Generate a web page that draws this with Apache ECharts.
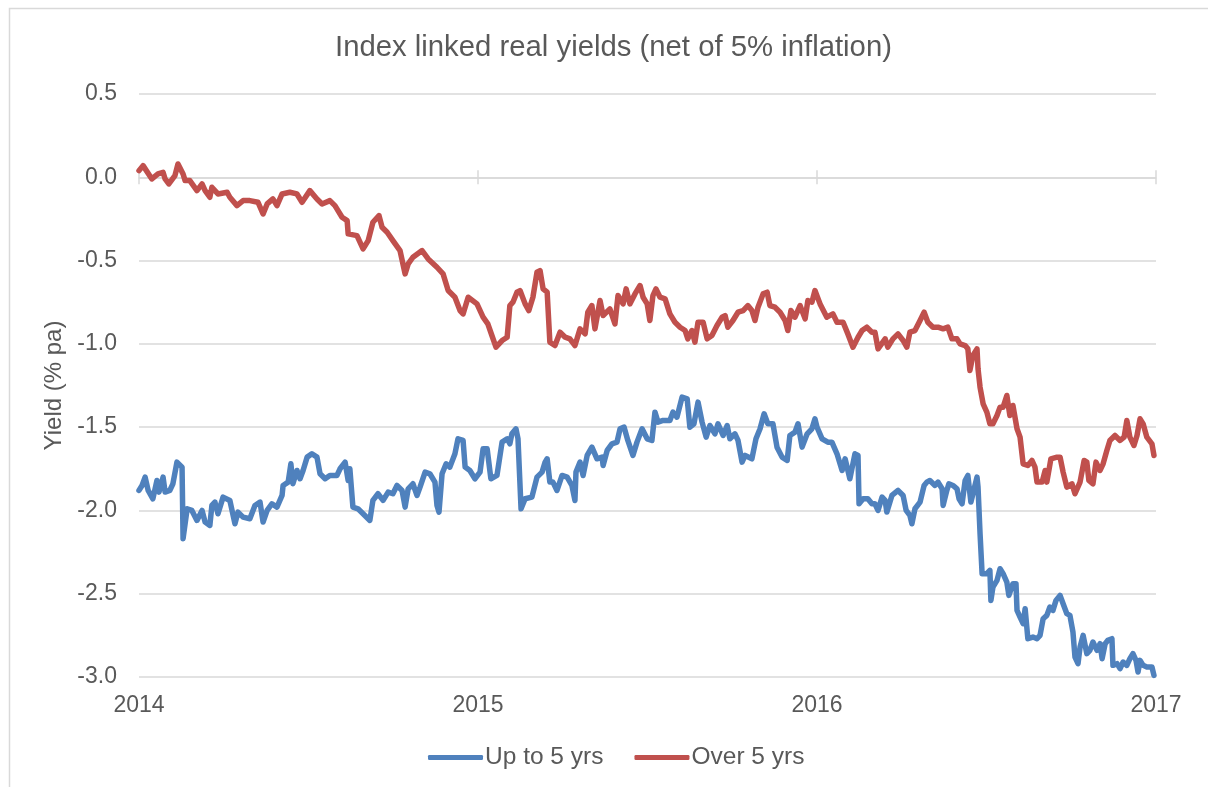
<!DOCTYPE html>
<html>
<head>
<meta charset="utf-8">
<script src="https://cdn.jsdelivr.net/npm/echarts@6/dist/echarts.min.js"></script>
<style>
html,body{margin:0;padding:0;background:#fff;}
#chart{width:1208px;height:787px;}
</style>
</head>
<body>
<div id="chart"></div>
<script>
const TITLE = 'Index linked real yields (net of 5% inflation)';
const Y_NAME = 'Yield (% pa)';
const SERIES_NAMES = ['Up to 5 yrs', 'Over 5 yrs'];
const START_YEAR = 2014;
const END_YEAR = 2017;

// Over 5 yrs: time (years since START_YEAR) and yield values
const overT = [0,0.012,0.038,0.056,0.071,0.077,0.088,0.106,0.115,0.130,0.136,0.150,0.171,0.186,0.195,0.209,0.215,0.233,0.260,0.268,0.289,0.307,0.327,0.351,0.366,0.378,0.395,0.407,0.422,0.445,0.466,0.481,0.504,0.525,0.540,0.563,0.578,0.599,0.614,0.617,0.643,0.661,0.676,0.690,0.708,0.717,0.732,0.749,0.770,0.785,0.794,0.808,0.835,0.853,0.879,0.897,0.912,0.932,0.947,0.956,0.971,0.997,1.015,1.029,1.041,1.053,1.071,1.086,1.094,1.103,1.115,1.124,1.139,1.150,1.162,1.174,1.183,1.192,1.204,1.212,1.227,1.242,1.257,1.271,1.286,1.301,1.316,1.324,1.336,1.345,1.360,1.369,1.389,1.404,1.413,1.428,1.437,1.448,1.463,1.478,1.487,1.499,1.507,1.516,1.525,1.537,1.552,1.566,1.581,1.596,1.611,1.619,1.631,1.640,1.649,1.664,1.676,1.690,1.705,1.720,1.729,1.737,1.752,1.767,1.782,1.796,1.808,1.817,1.826,1.841,1.853,1.861,1.876,1.891,1.906,1.914,1.923,1.935,1.950,1.965,1.973,1.985,1.994,2.009,2.029,2.047,2.059,2.077,2.091,2.106,2.121,2.133,2.147,2.162,2.171,2.180,2.201,2.209,2.224,2.239,2.254,2.265,2.274,2.289,2.304,2.316,2.327,2.342,2.357,2.372,2.386,2.398,2.413,2.422,2.437,2.445,2.451,2.460,2.472,2.475,2.481,2.490,2.501,2.510,2.519,2.531,2.540,2.549,2.560,2.569,2.578,2.590,2.599,2.608,2.622,2.634,2.643,2.649,2.664,2.673,2.678,2.690,2.708,2.717,2.726,2.737,2.752,2.761,2.776,2.788,2.796,2.802,2.814,2.823,2.835,2.844,2.855,2.864,2.879,2.894,2.906,2.914,2.923,2.935,2.944,2.953,2.962,2.973,2.988,2.994];
const overV = [0.04,0.07,-0.01,0.02,0.03,-0.01,-0.04,0.01,0.08,0.02,-0.02,-0.02,-0.08,-0.04,-0.08,-0.12,-0.06,-0.10,-0.09,-0.12,-0.17,-0.14,-0.14,-0.15,-0.22,-0.16,-0.13,-0.17,-0.10,-0.09,-0.10,-0.15,-0.08,-0.13,-0.16,-0.14,-0.17,-0.24,-0.26,-0.34,-0.35,-0.43,-0.38,-0.27,-0.23,-0.30,-0.33,-0.38,-0.44,-0.58,-0.52,-0.48,-0.44,-0.49,-0.54,-0.58,-0.68,-0.72,-0.80,-0.82,-0.72,-0.76,-0.84,-0.88,-0.95,-1.02,-0.98,-0.96,-0.77,-0.75,-0.69,-0.68,-0.76,-0.80,-0.72,-0.57,-0.56,-0.67,-0.69,-0.99,-1.01,-0.93,-0.96,-0.97,-1.01,-0.91,-0.94,-0.81,-0.77,-0.91,-0.74,-0.83,-0.79,-0.88,-0.71,-0.76,-0.67,-0.76,-0.70,-0.65,-0.72,-0.76,-0.86,-0.71,-0.67,-0.72,-0.73,-0.82,-0.87,-0.90,-0.92,-0.97,-0.92,-0.99,-0.87,-0.87,-0.97,-0.95,-0.89,-0.84,-0.83,-0.90,-0.86,-0.81,-0.80,-0.77,-0.80,-0.86,-0.78,-0.70,-0.69,-0.77,-0.78,-0.81,-0.86,-0.92,-0.80,-0.84,-0.77,-0.85,-0.74,-0.75,-0.68,-0.76,-0.84,-0.82,-0.87,-0.87,-0.94,-1.02,-0.96,-0.92,-0.90,-0.93,-0.93,-1.03,-0.97,-1.02,-0.97,-0.94,-0.98,-1.02,-0.93,-0.92,-0.86,-0.81,-0.87,-0.90,-0.90,-0.91,-0.90,-0.97,-0.97,-1.00,-1.01,-1.03,-1.16,-1.07,-1.03,-1.15,-1.26,-1.36,-1.41,-1.48,-1.48,-1.43,-1.38,-1.38,-1.31,-1.43,-1.37,-1.51,-1.56,-1.72,-1.73,-1.70,-1.74,-1.83,-1.83,-1.76,-1.83,-1.69,-1.68,-1.68,-1.77,-1.86,-1.84,-1.90,-1.83,-1.70,-1.71,-1.82,-1.84,-1.71,-1.76,-1.72,-1.64,-1.58,-1.55,-1.58,-1.56,-1.46,-1.56,-1.61,-1.55,-1.45,-1.48,-1.56,-1.60,-1.67];

// Up to 5 yrs
const upT = [0,0.009,0.018,0.027,0.041,0.053,0.059,0.071,0.077,0.091,0.100,0.112,0.127,0.130,0.142,0.156,0.171,0.186,0.195,0.209,0.215,0.224,0.233,0.248,0.268,0.283,0.292,0.307,0.327,0.342,0.357,0.366,0.378,0.392,0.407,0.422,0.425,0.440,0.448,0.454,0.466,0.475,0.484,0.496,0.510,0.525,0.534,0.549,0.563,0.584,0.593,0.608,0.617,0.622,0.631,0.646,0.661,0.681,0.690,0.705,0.720,0.735,0.749,0.761,0.776,0.785,0.794,0.808,0.820,0.829,0.844,0.858,0.873,0.879,0.885,0.894,0.906,0.917,0.932,0.941,0.956,0.962,0.976,0.991,1.006,1.015,1.027,1.038,1.056,1.071,1.086,1.094,1.100,1.112,1.118,1.127,1.139,1.159,1.174,1.189,1.198,1.204,1.212,1.221,1.233,1.248,1.263,1.277,1.286,1.289,1.301,1.310,1.322,1.336,1.351,1.366,1.369,1.381,1.395,1.410,1.419,1.431,1.442,1.457,1.469,1.484,1.499,1.513,1.522,1.531,1.546,1.566,1.575,1.587,1.602,1.617,1.625,1.637,1.649,1.661,1.673,1.684,1.699,1.708,1.723,1.735,1.743,1.758,1.767,1.779,1.788,1.808,1.820,1.832,1.844,1.855,1.870,1.882,1.897,1.912,1.920,1.935,1.944,1.956,1.971,1.985,1.994,2.000,2.015,2.032,2.044,2.059,2.074,2.083,2.097,2.112,2.121,2.124,2.136,2.150,2.162,2.171,2.180,2.192,2.201,2.206,2.221,2.239,2.254,2.263,2.274,2.280,2.289,2.304,2.316,2.324,2.333,2.348,2.357,2.369,2.372,2.383,2.389,2.401,2.413,2.419,2.428,2.437,2.445,2.454,2.460,2.472,2.475,2.481,2.487,2.501,2.510,2.513,2.519,2.531,2.540,2.549,2.560,2.566,2.578,2.587,2.590,2.599,2.608,2.614,2.619,2.622,2.637,2.649,2.658,2.667,2.678,2.687,2.696,2.705,2.717,2.726,2.737,2.746,2.755,2.761,2.770,2.776,2.785,2.796,2.805,2.814,2.826,2.835,2.841,2.850,2.858,2.870,2.873,2.885,2.894,2.903,2.914,2.923,2.932,2.941,2.947,2.953,2.962,2.973,2.988,2.994];
const upV = [-1.88,-1.85,-1.80,-1.88,-1.93,-1.82,-1.89,-1.80,-1.89,-1.88,-1.84,-1.71,-1.74,-2.17,-1.99,-2.00,-2.06,-2.00,-2.07,-2.09,-1.97,-1.95,-2.02,-1.92,-1.94,-2.08,-2.01,-2.04,-2.05,-1.97,-1.95,-2.07,-2.00,-1.96,-1.98,-1.91,-1.85,-1.83,-1.72,-1.84,-1.76,-1.81,-1.76,-1.68,-1.66,-1.68,-1.78,-1.81,-1.79,-1.79,-1.75,-1.71,-1.82,-1.75,-1.98,-1.99,-2.02,-2.06,-1.94,-1.90,-1.94,-1.89,-1.90,-1.85,-1.88,-1.98,-1.87,-1.84,-1.91,-1.86,-1.77,-1.78,-1.83,-1.97,-2.01,-1.78,-1.72,-1.74,-1.66,-1.57,-1.58,-1.74,-1.76,-1.81,-1.77,-1.63,-1.63,-1.81,-1.79,-1.59,-1.57,-1.60,-1.54,-1.51,-1.57,-1.99,-1.93,-1.92,-1.80,-1.77,-1.71,-1.69,-1.83,-1.83,-1.88,-1.79,-1.80,-1.85,-1.94,-1.77,-1.71,-1.79,-1.67,-1.62,-1.69,-1.68,-1.73,-1.64,-1.60,-1.59,-1.51,-1.50,-1.58,-1.67,-1.59,-1.51,-1.57,-1.58,-1.41,-1.47,-1.46,-1.46,-1.41,-1.44,-1.32,-1.33,-1.50,-1.48,-1.35,-1.47,-1.56,-1.49,-1.54,-1.48,-1.55,-1.49,-1.57,-1.54,-1.58,-1.71,-1.67,-1.69,-1.57,-1.51,-1.42,-1.48,-1.48,-1.62,-1.68,-1.70,-1.55,-1.53,-1.48,-1.62,-1.54,-1.51,-1.45,-1.50,-1.57,-1.59,-1.59,-1.66,-1.76,-1.69,-1.81,-1.66,-1.67,-1.96,-1.93,-1.93,-1.96,-1.96,-2.00,-1.92,-1.94,-2.01,-1.91,-1.88,-1.91,-2.00,-2.03,-2.08,-1.99,-1.95,-1.85,-1.83,-1.82,-1.85,-1.83,-1.87,-1.97,-1.88,-1.84,-1.85,-1.87,-1.93,-1.96,-1.82,-1.79,-1.95,-1.90,-1.80,-1.86,-2.14,-2.38,-2.38,-2.36,-2.54,-2.46,-2.42,-2.35,-2.38,-2.43,-2.51,-2.44,-2.44,-2.60,-2.64,-2.68,-2.59,-2.60,-2.77,-2.76,-2.77,-2.75,-2.65,-2.63,-2.58,-2.60,-2.54,-2.51,-2.56,-2.62,-2.63,-2.73,-2.88,-2.92,-2.82,-2.75,-2.86,-2.84,-2.79,-2.84,-2.80,-2.89,-2.80,-2.78,-2.77,-2.93,-2.92,-2.95,-2.91,-2.93,-2.89,-2.86,-2.90,-2.97,-2.90,-2.93,-2.94,-2.94,-2.99];

const Y_MIN = -3.0, Y_MAX = 0.5, Y_STEP = 0.5;

const COLORS = ['#4f81bd', '#c0504d'];
const TEXT = '#595959';
const GRID_COLOR = '#d9d9d9';
const FONT = '"Liberation Sans", Arial, sans-serif';

function pairs(ts, vs) { return ts.map((t, i) => [START_YEAR + t, vs[i]]); }

const chart = echarts.init(document.getElementById('chart'), null, {renderer: 'canvas'});
const xBase = {type: 'value', min: START_YEAR, max: END_YEAR, interval: 1, splitLine: {show: false}, gridIndex: 0};
const yBase = {type: 'value', min: Y_MIN, max: Y_MAX, interval: Y_STEP, gridIndex: 0};
chart.setOption({
  animation: false,
  backgroundColor: '#fff',
  textStyle: {fontFamily: FONT},
  title: {
    text: TITLE, left: 330, top: 28,
    textStyle: {fontFamily: FONT, fontSize: 29.3, fontWeight: 'normal', color: TEXT}
  },
  graphic: [{
    type: 'rect', left: 7, top: 6, silent: true,
    shape: {width: 1400, height: 1000},
    style: {fill: 'none', stroke: GRID_COLOR, lineWidth: 1.5}
  }],
  legend: {
    data: SERIES_NAMES, bottom: 12, left: 423,
    icon: 'roundRect', itemWidth: 55, itemHeight: 5, itemGap: 31,
    textStyle: {fontFamily: FONT, fontSize: 24.5, color: TEXT, padding: [0, 0, 0, -3]}
  },
  grid: {left: 139, right: 52, top: 94, bottom: 110, containLabel: false},
  xAxis: [
    Object.assign({}, xBase, {
      axisLine: {show: true, onZero: true, onZeroAxisIndex: 0, lineStyle: {color: GRID_COLOR, width: 1.5}},
      axisTick: {show: true, inside: false, length: 7, lineStyle: {color: GRID_COLOR, width: 1.5}},
      axisLabel: {show: false}
    }),
    Object.assign({}, xBase, {
      position: 'bottom',
      axisLine: {show: false, onZero: true, onZeroAxisIndex: 1},
      axisTick: {show: true, inside: true, length: 7, lineStyle: {color: GRID_COLOR, width: 1.5}},
      axisLabel: {show: false}
    }),
    Object.assign({}, xBase, {
      position: 'bottom',
      axisLine: {show: false, onZero: false},
      axisTick: {show: false},
      axisLabel: {show: true, margin: 17, fontSize: 23, color: TEXT, fontFamily: FONT,
        formatter: v => String(Math.round(v))}
    })
  ],
  yAxis: [
    Object.assign({}, yBase, {
      name: Y_NAME, nameLocation: 'middle', nameGap: 69,
      nameTextStyle: {fontFamily: FONT, fontSize: 24, color: TEXT},
      axisLine: {show: false}, axisTick: {show: false},
      axisLabel: {margin: 22, fontSize: 23, color: TEXT, fontFamily: FONT,
        formatter: v => v.toFixed(1)},
      splitLine: {show: true, lineStyle: {color: GRID_COLOR, width: 1.5}}
    }),
    Object.assign({}, yBase, {
      position: 'right', show: true,
      axisLine: {show: false}, axisTick: {show: false},
      axisLabel: {show: false}, splitLine: {show: false}
    })
  ],
  series: [
    {name: SERIES_NAMES[0], type: 'line', xAxisIndex: 0, yAxisIndex: 0, data: pairs(upT, upV),
     showSymbol: false, symbol: 'none', color: COLORS[0],
     lineStyle: {width: 5.5, color: COLORS[0], cap: 'round', join: 'round'}},
    {name: SERIES_NAMES[1], type: 'line', xAxisIndex: 0, yAxisIndex: 0, data: pairs(overT, overV),
     showSymbol: false, symbol: 'none', color: COLORS[1],
     lineStyle: {width: 5.5, color: COLORS[1], cap: 'round', join: 'round'}}
  ]
});
</script>
</body>
</html>
